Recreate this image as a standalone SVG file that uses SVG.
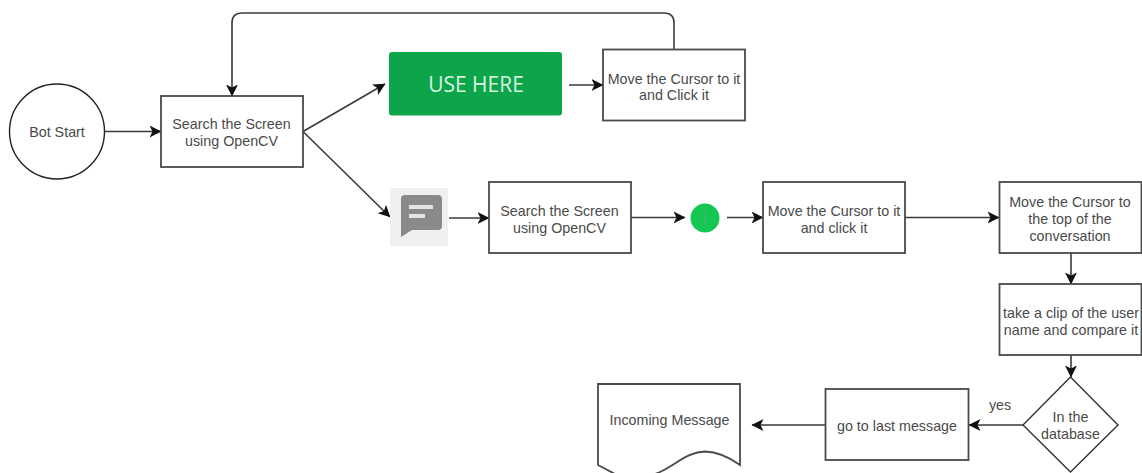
<svg xmlns="http://www.w3.org/2000/svg" width="1142" height="473" viewBox="0 0 1142 473">
<style>
.n{fill:#fff;stroke:#4a4a4a;stroke-width:1.800}
.c{fill:none;stroke:#3a3a3a;stroke-width:1.600;marker-end:url(#a)}
text{font-family:"Liberation Sans",Arial,sans-serif;font-size:14.300px;fill:#4a4a4a;text-anchor:middle}
</style>
<defs>
<marker id="a" markerUnits="userSpaceOnUse" markerWidth="14" markerHeight="14" refX="11.500" refY="6.500" orient="auto"><path d="M0 0.500L12 6.500L0 12.500L3 6.500Z" fill="#111"/></marker>
<filter id="b" x="-10%" y="-10%" width="120%" height="120%"><feGaussianBlur stdDeviation="0.500"/></filter>
</defs>
<rect width="1142" height="473" fill="#fff"/>
<g id="connectors">
<path class="c" d="M105 131.500H161"/>
<path class="c" d="M674 49V23Q674 13 664 13H242Q232 13 232 23V96"/>
<path class="c" d="M303 131.500L385 84"/>
<path class="c" d="M303 131.500L390 217"/>
<path class="c" d="M569 85H603"/>
<path class="c" d="M449 218H489"/>
<path class="c" d="M631 217.500H685"/>
<path class="c" d="M727 217.500H763"/>
<path class="c" d="M905 217.500H999"/>
<path class="c" d="M1071 253V284"/>
<path class="c" d="M1071 355V377"/>
<path class="c" d="M1023 425H969"/>
<path class="c" d="M825 425H752"/>
</g>
<g id="start"><circle class="n" cx="57" cy="131.500" r="47.500" style="stroke:#222;stroke-width:1.400"/><text x="57" y="137">Bot Start</text></g>
<g id="search1"><rect class="n" x="161" y="96" width="142" height="71"/><text x="231.500" y="128.500">Search the Screen</text><text x="231.500" y="145.500">using OpenCV</text></g>
<g id="usehere"><rect x="389" y="52" width="173" height="63.500" rx="3" fill="#0ea54a" filter="url(#b)"/><text x="476" y="92" style="font-family:'Open Sans',sans-serif;font-size:21px;fill:#d6f3e0">USE HERE</text></g>
<g id="click1"><rect class="n" x="603" y="49.500" width="142" height="71"/><text x="674" y="83.500">Move the Cursor to it</text><text x="674" y="99.500">and Click it</text></g>
<g id="chat"><rect x="390" y="188" width="58" height="58" fill="#f0f0f0"/><path d="M401 199Q401 195 405 195H438Q442 195 442 199V226Q442 230 438 230H412L401 237Z" fill="#8a8a8a" filter="url(#b)"/><rect x="409" y="205" width="24" height="4" fill="#e4e4e4" filter="url(#b)"/><rect x="409" y="214" width="16" height="4" fill="#e4e4e4" filter="url(#b)"/></g>
<g id="search2"><rect class="n" x="489" y="182" width="142" height="71"/><text x="559.500" y="215.500">Search the Screen</text><text x="559.500" y="232.500">using OpenCV</text></g>
<g id="badge"><circle cx="705" cy="218" r="14.500" fill="#16c653" filter="url(#b)"/><path d="M703 213L706 211V224H704V214Z" fill="#3fb56a"/></g>
<g id="click2"><rect class="n" x="763" y="182" width="142" height="71"/><text x="834" y="215.500">Move the Cursor to it</text><text x="834" y="232.500">and click it</text></g>
<g id="top"><rect class="n" x="999.500" y="182" width="142" height="71"/><text x="1070" y="206.500">Move the Cursor to</text><text x="1070" y="223.500">the top of the</text><text x="1070" y="240.500">conversation</text></g>
<g id="clip"><rect class="n" x="999.500" y="284" width="142" height="71"/><text x="1071" y="317.500">take a clip of the user</text><text x="1071" y="334.500">name and compare it</text></g>
<g id="db"><path class="n" d="M1070.500 377L1118 425L1070.500 472L1023 425Z" style="stroke:#333;stroke-width:1.400"/><text x="1070.500" y="421.500">In the</text><text x="1070.500" y="438.500">database</text></g>
<g id="yes-label"><text x="1000" y="410">yes</text></g>
<g id="last"><rect class="n" x="825.500" y="389" width="143" height="71"/><text x="897" y="430.500">go to last message</text></g>
<g id="doc"><path class="n" d="M598 384H740V465Q722 452 705 451.500C688 452 678 463 660 472L655 474H615L598 465Z"/><text x="669.500" y="424.500">Incoming Message</text></g>
</svg>
